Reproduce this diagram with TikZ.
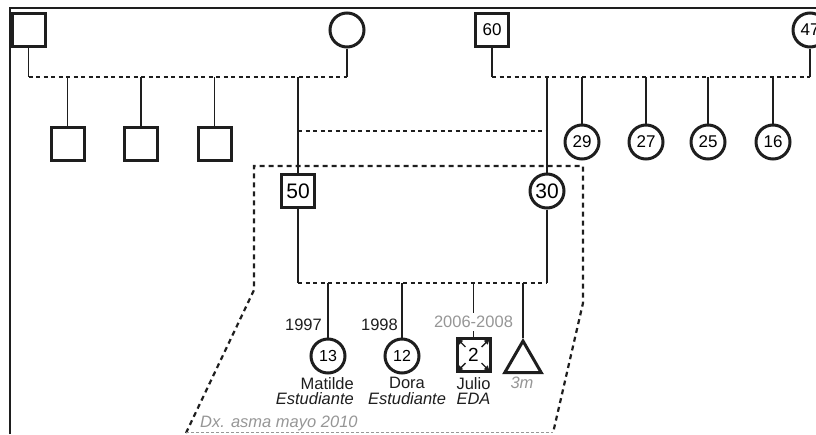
\documentclass[tikz,border=0pt]{standalone}
\usepackage{fontspec}
\setmainfont{Liberation Sans}
\usepackage{tikz}
\usetikzlibrary{shapes.geometric, arrows.meta, positioning, calc}
\definecolor{mydark}{RGB}{30,30,30}
\definecolor{mygray}{RGB}{150,150,150}
\newcommand{\lblfont}{\fontsize{16.5}{15.5}\selectfont}
\tikzset{
  male/.style={rectangle, draw=mydark, fill=white, minimum size=33pt,
    inner sep=0pt, line width=3pt, font=\fontsize{17}{18}\selectfont},
  female/.style={circle, draw=mydark, fill=white, minimum size=34pt,
    inner sep=0pt, line width=3pt, font=\fontsize{17}{18}\selectfont},
  unknown/.style={regular polygon, regular polygon sides=3, draw=mydark,
    minimum size=42pt, inner sep=0pt, line width=3pt},
  bignum/.style={font=\fontsize{21}{22}\selectfont},
  line/.style={line width=1.8pt, color=mydark},
  dline/.style={line width=1.8pt, color=mydark, dash pattern=on 4pt off 3.5pt},
  hhline/.style={line width=2.2pt, color=mydark, dash pattern=on 5pt off 4pt},
  txt/.style={font=\lblfont, inner sep=0pt, text=mydark},
  greytxt/.style={txt, text=mygray}
}

\begin{document}
\begin{tikzpicture}[x=1pt, y=-1pt]
  \useasboundingbox (0,0) rectangle (816,434);

  % Frame
  \draw[line width=2.4pt, color=mydark] (10,434) -- (10,8) -- (816,8);

  % Household boundary
  \draw[hhline] (186,433) -- (254,290) -- (254,166) -- (583,166) -- (583,303) -- (553,433);
  \draw[color=mygray, line width=0.9pt, dash pattern=on 3pt off 2pt] (186,432) -- (553,432);

  % Grandparents (father's side)
  \node[male] (gpa) at (28.5,29.5) {};
  \node[female] (gma) at (347,30) {};
  \coordinate (mlA) at (gpa |- 0,77);
  \coordinate (mrA) at (gma |- 0,77);
  \draw[line] (gpa) -- (mlA);
  \draw[line] (gma) -- (mrA);
  \draw[dline] (mlA) -- (mrA);

  % Uncles
  \node[male] (unc1) at (67.5,144) {};
  \node[male] (unc2) at (141,144) {};
  \node[male] (unc3) at (214.5,144) {};
  \foreach \n in {unc1, unc2, unc3}
    \draw[line] (\n) -- (\n |- mlA);

  % Grandparents (mother's side)
  \node[male] (gpb) at (492,30) {60};
  \node[female] (gmb) at (810,30) {47};
  \coordinate (mlB) at (gpb |- 0,77);
  \coordinate (mrB) at (gmb |- 0,77);
  \draw[line] (gpb) -- (mlB);
  \draw[line] (gmb) -- (mrB);
  \draw[dline] (mlB) -- (mrB);

  % Aunts
  \node[female] (aunt1) at (582,142) {29};
  \node[female] (aunt2) at (646,142) {27};
  \node[female] (aunt3) at (708,142) {25};
  \node[female] (aunt4) at (773,142) {16};
  \foreach \n in {aunt1, aunt2, aunt3, aunt4}
    \draw[line] (\n) -- (\n |- mlB);

  % Parents
  \node[male, bignum] (father) at (298,191) {50};
  \node[female, bignum] (mother) at (547,191) {30};
  \draw[line] (father) -- (father |- mlA);
  \draw[line] (mother) -- (mother |- mlB);
  \draw[dline] (father |- 0,131) -- (mother |- 0,131);

  % Family line
  \coordinate (flL) at (father |- 0,283);
  \coordinate (flR) at (mother |- 0,283);
  \draw[line] (father) -- (flL);
  \draw[line] (mother) -- (flR);
  \draw[dline] (flL) -- (flR);

  % Children
  \node[female, font=\fontsize{16}{18}\selectfont] (matilde) at (328,356) {13};
  \node[female, font=\fontsize{16}{18}\selectfont] (dora) at (402,356) {12};
  \node[male, font=\fontsize{19}{20}\selectfont] (julio) at (473.5,355) {2};
  \node[unknown] (baby) at (523,362) {};
  \foreach \c in {north west, north east, south west, south east}
    \draw[-{Latex[length=6pt, width=6pt]}, line width=1.4pt, color=mydark]
      ($(julio.center)!0.45!(julio.\c)$) -- ($(julio.center)!0.92!(julio.\c)$);

  \draw[line] (matilde) -- (matilde |- flL);
  \draw[line] (dora) -- (dora |- flL);
  \draw[line] (baby.corner 1) -- (baby.corner 1 |- flL);

  \node[greytxt, inner sep=3pt] (yjulio) at (473.5,322) {2006-2008};
  \draw[line] (yjulio.north |- flL) -- (yjulio.north);
  \draw[line] (yjulio.south) -- (julio.north);

  % Labels
  \node[txt, anchor=east] (ymatilde) at (322,325) {1997};
  \node[txt, anchor=east] (ydora) at (398,325) {1998};
  \node[txt, align=right, anchor=north east] (nmatilde) at (354,377) {Matilde\\\lblfont\itshape Estudiante};
  \node[txt, align=center, anchor=north] (ndora) at (407,377) {Dora\\\lblfont\itshape Estudiante};
  \node[txt, align=center, anchor=north] (njulio) at (473.5,377) {Julio\\\lblfont\itshape EDA};
  \node[greytxt, anchor=north] (nbaby) at (522,377) {\itshape 3m};
  \node[greytxt, anchor=south west] (dx) at (200,431) {\itshape Dx. asma mayo 2010};
\end{tikzpicture}
\end{document}
